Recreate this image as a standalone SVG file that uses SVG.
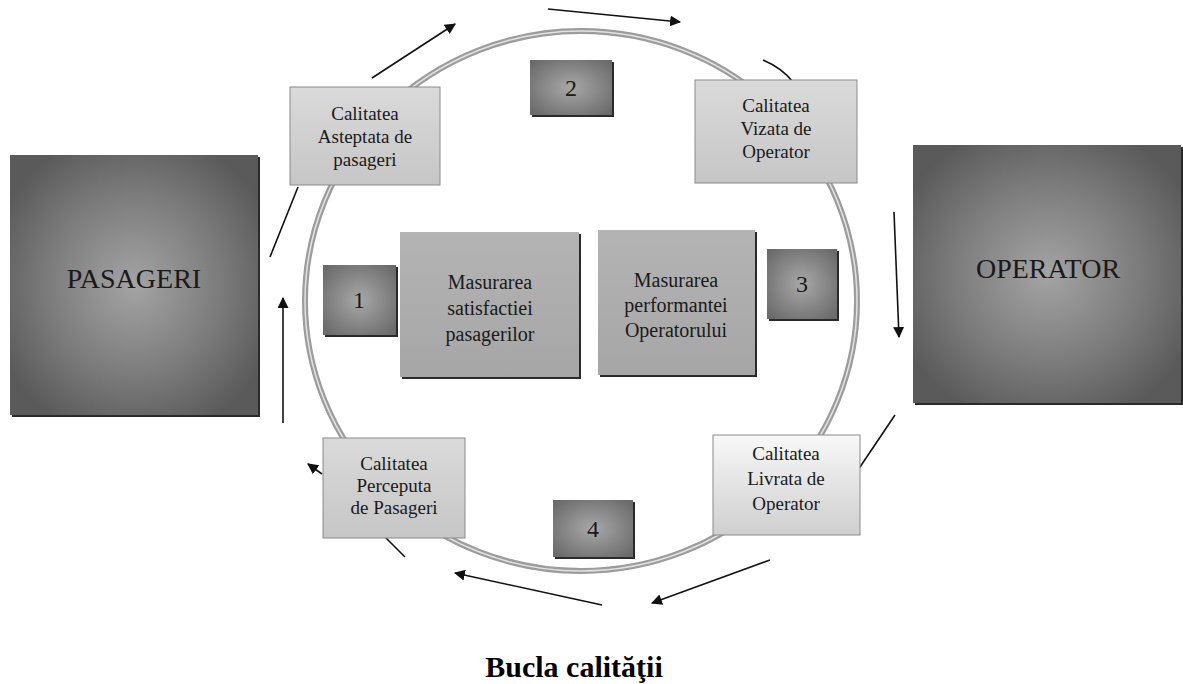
<svg xmlns="http://www.w3.org/2000/svg" width="1183" height="684" viewBox="0 0 1183 684">
<defs>
<radialGradient id="gBig" cx="50%" cy="50%" r="60%">
<stop offset="0" stop-color="#a4a4a4"/><stop offset="0.6" stop-color="#7a7a7a"/><stop offset="1" stop-color="#5a5a5a"/>
</radialGradient>
<radialGradient id="gNum" cx="50%" cy="50%" r="65%">
<stop offset="0" stop-color="#a8a8a8"/><stop offset="1" stop-color="#6a6a6a"/>
</radialGradient>
<linearGradient id="gMid" x1="0" y1="0" x2="0" y2="1">
<stop offset="0" stop-color="#b4b4b4"/><stop offset="1" stop-color="#a6a6a6"/>
</linearGradient>
<linearGradient id="gQ" x1="0" y1="0" x2="0" y2="1">
<stop offset="0" stop-color="#dadada"/><stop offset="1" stop-color="#c6c6c6"/>
</linearGradient>
<linearGradient id="gQL" x1="0" y1="0" x2="0" y2="1">
<stop offset="0" stop-color="#f8f8f8"/><stop offset="1" stop-color="#cfcfcf"/>
</linearGradient>
<marker id="ah" viewBox="0 0 10 10" refX="9" refY="5" markerWidth="11" markerHeight="11" markerUnits="userSpaceOnUse" orient="auto">
<path d="M0,0 L10,5 L0,10 Z" fill="#111"/>
</marker>
</defs>
<style>
text{font-family:"Liberation Serif","Times New Roman",serif;fill:#1a1a1a;text-anchor:middle}
.q{font-size:19px}
.m{font-size:20px}
.n{font-size:24px}
.big{font-size:28px}
.title{font-size:30px;font-weight:bold;fill:#000}
.sh{fill:#2a2a2a}
.edge{stroke:#8a8a8a;stroke-width:1}
.ln{fill:none;stroke:#111;stroke-width:1.6}
.ar{fill:none;stroke:#111;stroke-width:1.6;marker-end:url(#ah)}
</style>
<rect width="1183" height="684" fill="#fff"/>

<g id="ring">
<ellipse cx="581" cy="301" rx="276" ry="270" fill="none" stroke="#9c9c9c" stroke-width="6"/>
<ellipse cx="581" cy="301" rx="276" ry="270" fill="none" stroke="#e2e2e2" stroke-width="1.5"/>
</g>

<g id="connectors">
<path class="ar" d="M372,78 L455,24"/>
<path class="ar" d="M548,9 L680,22"/>
<path class="ln" d="M763,60 Q782,68 793,82"/>
<path class="ar" d="M894,212 L899,337"/>
<path class="ln" d="M895,415 L858,470"/>
<path class="ar" d="M770,560 L652,603"/>
<path class="ar" d="M602,605 L455,573"/>
<path class="ln" d="M405,557 L383,535"/>
<path class="ar" d="M322,474 L308,464"/>
<path class="ar" d="M283,423 L283,298"/>
<path class="ln" d="M270,257 L298,187"/>
</g>

<g id="pasageri">
<rect class="sh" x="12" y="157" width="248" height="260"/>
<rect x="10" y="155" width="248" height="260" fill="url(#gBig)"/>
<text class="big" x="134" y="288">PASAGERI</text>
</g>

<g id="operator">
<rect class="sh" x="915" y="147" width="268" height="258"/>
<rect x="913" y="145" width="268" height="258" fill="url(#gBig)"/>
<text class="big" x="1048" y="278">OPERATOR</text>
</g>

<g id="calitatea-asteptata">
<rect x="290" y="87" width="150" height="98" fill="url(#gQ)" class="edge"/>
<text class="q"><tspan x="365" y="120">Calitatea</tspan><tspan x="365" y="143">Asteptata de</tspan><tspan x="365" y="166">pasageri</tspan></text>
</g>

<g id="calitatea-vizata">
<rect x="695" y="80" width="162" height="103" fill="url(#gQ)" class="edge"/>
<text class="q"><tspan x="776" y="112">Calitatea</tspan><tspan x="776" y="135">Vizata de</tspan><tspan x="776" y="158">Operator</tspan></text>
</g>

<g id="calitatea-livrata">
<rect x="713" y="435" width="147" height="100" fill="url(#gQL)" class="edge"/>
<text class="q"><tspan x="786" y="460">Calitatea</tspan><tspan x="786" y="485">Livrata de</tspan><tspan x="786" y="510">Operator</tspan></text>
</g>

<g id="calitatea-perceputa">
<rect x="323" y="438" width="142" height="100" fill="url(#gQ)" class="edge"/>
<text class="q"><tspan x="394" y="470">Calitatea</tspan><tspan x="394" y="492">Perceputa</tspan><tspan x="394" y="514">de Pasageri</tspan></text>
</g>

<g id="masurarea-satisfactiei">
<rect class="sh" x="402" y="234" width="179" height="145"/>
<rect x="400" y="232" width="179" height="145" fill="url(#gMid)"/>
<text class="m"><tspan x="490" y="289">Masurarea</tspan><tspan x="490" y="315">satisfactiei</tspan><tspan x="490" y="341">pasagerilor</tspan></text>
</g>

<g id="masurarea-performantei">
<rect class="sh" x="600" y="232" width="157" height="145"/>
<rect x="598" y="230" width="157" height="145" fill="url(#gMid)"/>
<text class="m"><tspan x="676" y="287">Masurarea</tspan><tspan x="676" y="312">performantei</tspan><tspan x="676" y="337">Operatorului</tspan></text>
</g>

<g id="n1">
<rect class="sh" x="325" y="267" width="73" height="70"/>
<rect x="323" y="265" width="73" height="70" fill="url(#gNum)"/>
<text class="n" x="359" y="308">1</text>
</g>

<g id="n2">
<rect class="sh" x="532" y="62" width="82" height="55"/>
<rect x="530" y="60" width="82" height="55" fill="url(#gNum)"/>
<text class="n" x="571" y="96">2</text>
</g>

<g id="n3">
<rect class="sh" x="769" y="251" width="70" height="70"/>
<rect x="767" y="249" width="70" height="70" fill="url(#gNum)"/>
<text class="n" x="802" y="292">3</text>
</g>

<g id="n4">
<rect class="sh" x="555" y="502" width="80" height="57"/>
<rect x="553" y="500" width="80" height="57" fill="url(#gNum)"/>
<text class="n" x="593" y="537">4</text>
</g>

<text class="title" x="574" y="677">Bucla calităţii</text>
</svg>
